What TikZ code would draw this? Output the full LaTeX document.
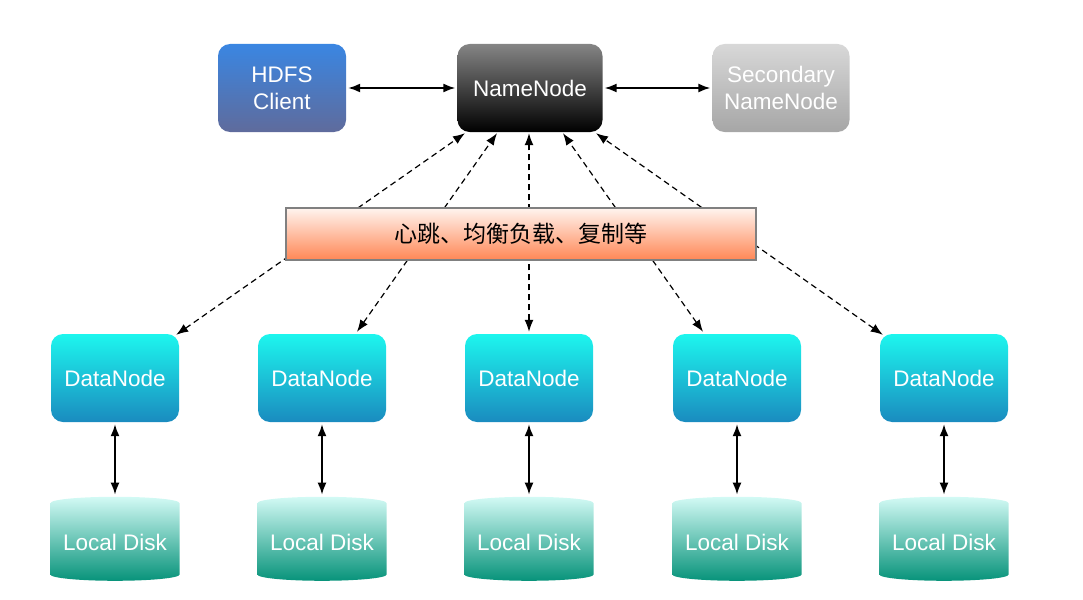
\documentclass[tikz,border=0pt]{standalone}
\usepackage{fontspec}
\setmainfont{Liberation Sans}
\newfontfamily\cjkfont{Noto Sans CJK SC}
\usetikzlibrary{arrows.meta,shapes.geometric}
\definecolor{clienttop}{HTML}{3A86E2}
\definecolor{clientbot}{HTML}{5F6B9C}
\definecolor{nametop}{HTML}{858585}
\definecolor{namebot}{HTML}{000000}
\definecolor{sectop}{HTML}{D8D8D8}
\definecolor{secbot}{HTML}{A6A6A6}
\definecolor{bannertop}{HTML}{FFF4EF}
\definecolor{bannerbot}{HTML}{FF8755}
\definecolor{datatop}{HTML}{1DF6EE}
\definecolor{databot}{HTML}{1A8BBF}
\definecolor{disktop}{HTML}{D3FAF5}
\definecolor{diskbot}{HTML}{07937A}
\tikzset{
  box/.style={rectangle,rounded corners=12pt,minimum width=128pt,minimum height=88pt,
    inner sep=0pt,align=center,text=white,font=\fontsize{22.5}{27}\selectfont},
  disk/.style={cylinder,shape border rotate=90,aspect=0.12,minimum width=129pt,
    minimum height=84pt,inner sep=0pt,text=white,font=\fontsize{22.5}{27}\selectfont,
    top color=disktop,bottom color=diskbot},
  link/.style={{Latex[length=12pt,width=9pt]}-{Latex[length=12pt,width=9pt]},line width=1.6pt,
    shorten <=2pt,shorten >=2pt},
  beat/.style={{Latex[length=12pt,width=9pt]}-{Latex[length=12pt,width=9pt]},line width=1.2pt,
    dash pattern=on 6pt off 4pt}
}
\begin{document}
\begin{tikzpicture}[x=1pt,y=-1pt]
\useasboundingbox (0,0) rectangle (1083,599);
\node at (282,88) [box,top color=clienttop,bottom color=clientbot] (Client) {HDFS\\Client};
\node at (530,88) [box,minimum width=145pt,top color=nametop,bottom color=namebot] (NameNode) {NameNode};
\node at (781,88) [box,minimum width=137pt,top color=sectop,bottom color=secbot] (Secondary) {Secondary\\NameNode};
\node at (115,378) [box,top color=datatop,bottom color=databot] (Data1) {DataNode};
\node at (322,378) [box,top color=datatop,bottom color=databot] (Data2) {DataNode};
\node at (529,378) [box,top color=datatop,bottom color=databot] (Data3) {DataNode};
\node at (737,378) [box,top color=datatop,bottom color=databot] (Data4) {DataNode};
\node at (944,378) [box,top color=datatop,bottom color=databot] (Data5) {DataNode};
\node at (115,542) [disk] (Disk1) {Local Disk};
\node at (322,542) [disk] (Disk2) {Local Disk};
\node at (529,542) [disk] (Disk3) {Local Disk};
\node at (737,542) [disk] (Disk4) {Local Disk};
\node at (944,542) [disk] (Disk5) {Local Disk};
\draw[link] (Client.east) -- (NameNode.west);
\draw[link] (NameNode.east) -- (Secondary.west);
\draw[link] (Data1.south) -- (Disk1.north);
\draw[link] (Data2.south) -- (Disk2.north);
\draw[link] (Data3.south) -- (Disk3.north);
\draw[link] (Data4.south) -- (Disk4.north);
\draw[link] (Data5.south) -- (Disk5.north);
\draw[beat] ([xshift=-3pt,yshift=-1pt]Data1.north east) -- ([xshift=-65pt,yshift=-1pt]NameNode.south);
\draw[beat] ([xshift=35pt,yshift=2pt]Data2.north) -- ([xshift=-33pt,yshift=-1pt]NameNode.south);
\draw[beat] ([yshift=2pt]Data3.north) -- ([xshift=-1pt,yshift=-1pt]NameNode.south);
\draw[beat] ([xshift=-34pt,yshift=2pt]Data4.north) -- ([xshift=33pt,yshift=-1pt]NameNode.south);
\draw[beat] ([xshift=3pt,yshift=-1pt]Data5.north west) -- ([xshift=66pt,yshift=-1pt]NameNode.south);
\node at (521,234) [rectangle,draw=black!50,line width=1.5pt,minimum width=470pt,minimum height=52pt,
  inner sep=0pt,top color=bannertop,bottom color=bannerbot,font=\cjkfont\fontsize{23}{27}\selectfont] (Banner) {心跳、均衡负载、复制等};
\end{tikzpicture}
\end{document}
